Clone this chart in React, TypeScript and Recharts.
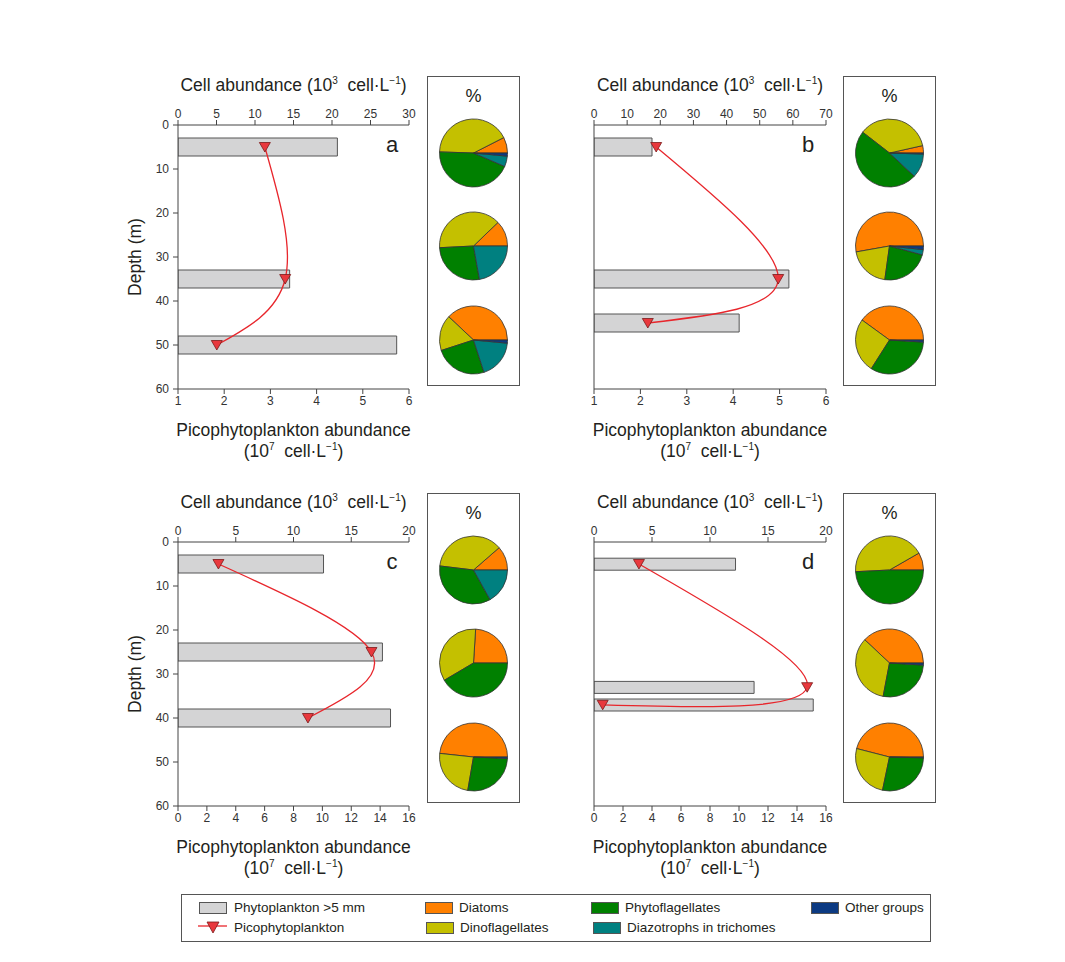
import React from 'react';
import { ComposedChart, Bar, Line, XAxis, YAxis, Label, PieChart, Pie, Cell } from 'recharts';

const FONT = "'Liberation Sans', Arial, sans-serif";

// Depths (m) of the sampled layers
const depthA = [5, 35, 50];
const depthB = [5, 35, 45];
const depthC = [5, 25, 40];
const depthD = [5, 33, 37];
// Phytoplankton >5 µm cell abundance (10^3 cell/L)
const cellA = [20.7, 14.5, 28.4];
const cellB = [17.5, 58.8, 43.8];
const cellC = [12.6, 17.7, 18.4];
const cellD = [12.2, 13.8, 18.9];
// Picophytoplankton abundance (10^7 cell/L)
const picoA = [2.88, 3.32, 1.84];
const picoB = [2.34, 4.97, 2.16];
const picoC = [2.8, 13.4, 9.0];
const picoD = [3.1, 14.7, 0.6];

// Axis ticks
const depthTicks = [0, 10, 20, 30, 40, 50, 60];
const cellTicksA = [0, 5, 10, 15, 20, 25, 30];
const cellTicksB = [0, 10, 20, 30, 40, 50, 60, 70];
const cellTicksCD = [0, 5, 10, 15, 20];
const picoTicksAB = [1, 2, 3, 4, 5, 6];
const picoTicksCD = [0, 2, 4, 6, 8, 10, 12, 14, 16];

// Composition groups (%)
const groups = ['Diatoms', 'Dinoflagellates', 'Phytoflagellates', 'Diazotrophs in trichomes', 'Other groups'];
const groupColors = ['#ff8000', '#c4c000', '#008000', '#008080', '#0c3a82'];
const compA = [
  [7.5, 42, 44, 5, 1.5],
  [12.2, 38.6, 27, 22.2, 0],
  [38, 17, 25, 18.5, 1.5],
];
const compB = [
  [3.5, 36, 48.5, 11.5, 0.5],
  [52.8, 20, 23, 2.5, 1.7],
  [40, 26, 33, 0, 1],
];
const compC = [
  [11.4, 36.7, 35, 16.9, 0],
  [24, 34.5, 41.5, 0, 0],
  [48.3, 24, 27, 0, 0.7],
];
const compD = [
  [8.3, 42.5, 49.2, 0, 0],
  [38, 34, 27, 0, 1],
  [46, 25.7, 27.9, 0, 0.4],
];

const TEXT = '#231f20';
const AXIS = '#444';

const TopTitle = (props: any) => {
  const vb = props.viewBox || {};
  const cx = vb.x + vb.width / 2;
  const y = vb.y - 4;
  return (
    <text x={cx} y={y} textAnchor="middle" fontSize={17.5} fill={TEXT} fontFamily={FONT}>
      Cell abundance (10
      <tspan dy={-7} fontSize={10}>3</tspan>
      <tspan dy={7}>{'\u00a0\u00a0cell·L'}</tspan>
      <tspan dy={-7} fontSize={10}>−1</tspan>
      <tspan dy={7}>)</tspan>
    </text>
  );
};

const BottomTitle = (props: any) => {
  const vb = props.viewBox || {};
  const cx = vb.x + vb.width / 2;
  const y = vb.y;
  return (
    <g>
      <text x={cx} y={y + 47} textAnchor="middle" fontSize={17.5} fill={TEXT} fontFamily={FONT}>
        Picophytoplankton abundance
      </text>
      <text x={cx} y={y + 68} textAnchor="middle" fontSize={17.5} fill={TEXT} fontFamily={FONT}>
        (10
        <tspan dy={-7} fontSize={10}>7</tspan>
        <tspan dy={7}>{'\u00a0\u00a0cell·L'}</tspan>
        <tspan dy={-7} fontSize={10}>−1</tspan>
        <tspan dy={7}>)</tspan>
      </text>
    </g>
  );
};

const DepthTitle = (props: any) => {
  const vb = props.viewBox || {};
  const x = vb.x + 7;
  const cy = vb.y + vb.height / 2;
  return (
    <text
      x={x}
      y={cy}
      textAnchor="middle"
      dominantBaseline="central"
      fontSize={17.5}
      fill={TEXT}
      fontFamily={FONT}
      transform={`rotate(-90 ${x} ${cy})`}
    >
      Depth (m)
    </text>
  );
};

const triDot = (p: any) => {
  const { cx, cy, index } = p;
  if (cx == null || cy == null) return <g key={`d${index}`} />;
  return (
    <path
      key={`d${index}`}
      d={`M${cx - 5.5},${cy - 4.5}L${cx + 5.5},${cy - 4.5}L${cx},${cy + 5}Z`}
      fill="#e8383d"
      stroke="#7a1a1a"
      strokeWidth={0.8}
    />
  );
};

type PanelProps = {
  left: number;
  top: number;
  plotW: number;
  letter: string;
  depth: number[];
  cell: number[];
  pico: number[];
  cellTicks: number[];
  picoTicks: number[];
  showY: boolean;
  barSize: number;
};

const Panel = ({ left, top, plotW, letter, depth, cell, pico, cellTicks, picoTicks, showY, barSize }: PanelProps) => {
  const data = depth.map((d, i) => ({ depth: d, cell: cell[i], pico: pico[i] }));
  const W = 400;
  const H = 420;
  const tickStyle = { fontSize: 12, fill: '#333', fontFamily: FONT };
  return (
    <div style={{ position: 'absolute', left, top, width: W, height: H }}>
      <ComposedChart
        layout="vertical"
        width={W}
        height={H}
        data={data}
        margin={{ top: 40, right: W - 80 - plotW, bottom: 56, left: 30 }}
      >
        <XAxis
          xAxisId="top"
          orientation="top"
          type="number"
          domain={[cellTicks[0], cellTicks[cellTicks.length - 1]]}
          ticks={cellTicks}
          allowDataOverflow
          height={30}
          tickSize={5}
          tickMargin={2}
          stroke={AXIS}
          tick={tickStyle}
          interval={0}
        >
          <Label content={<TopTitle />} />
        </XAxis>
        <XAxis
          xAxisId="bottom"
          orientation="bottom"
          type="number"
          domain={[picoTicks[0], picoTicks[picoTicks.length - 1]]}
          ticks={picoTicks}
          allowDataOverflow
          height={30}
          tickSize={5}
          tickMargin={2}
          stroke={AXIS}
          tick={tickStyle}
          interval={0}
        >
          <Label content={<BottomTitle />} />
        </XAxis>
        <YAxis
          type="number"
          dataKey="depth"
          domain={[0, 60]}
          ticks={depthTicks}
          allowDataOverflow
          width={50}
          tickSize={5}
          tickMargin={4}
          stroke={AXIS}
          tick={showY ? tickStyle : false}
          interval={0}
        >
          {showY ? <Label content={<DepthTitle />} /> : null}
        </YAxis>
        <Bar
          xAxisId="top"
          dataKey="cell"
          barSize={barSize}
          fill="#d4d4d5"
          stroke="#555"
          strokeWidth={1}
          isAnimationActive={false}
        />
        <Line
          xAxisId="bottom"
          dataKey="pico"
          type="natural"
          stroke="#e8262c"
          strokeWidth={1.3}
          dot={triDot}
          activeDot={false}
          isAnimationActive={false}
        />
      </ComposedChart>
      <div
        style={{
          position: 'absolute',
          left: 80 + 214 - 20,
          top: 70 + 8,
          width: 40,
          textAlign: 'center',
          fontFamily: FONT,
          fontSize: 22,
          color: TEXT,
          lineHeight: '24px',
        }}
      >
        {letter}
      </div>
    </div>
  );
};

const PieBox = ({ left, top, comp }: { left: number; top: number; comp: number[][] }) => {
  const cys = [77, 170, 264];
  return (
    <div
      style={{
        position: 'absolute',
        left,
        top,
        width: 93,
        height: 310,
        border: '1.3px solid #555',
        boxSizing: 'border-box',
        background: '#fff',
      }}
    >
      <div
        style={{
          position: 'absolute',
          left: 0,
          top: 8,
          width: '100%',
          textAlign: 'center',
          fontFamily: FONT,
          fontSize: 18,
          color: TEXT,
          lineHeight: '22px',
        }}
      >
        %
      </div>
      <div style={{ position: 'absolute', left: -1, top: -1 }}>
        <PieChart width={93} height={310} margin={{ top: 0, right: 0, bottom: 0, left: 0 }}>
          {comp.map((vals, k) => {
            const pd = vals
              .map((v, i) => ({ name: groups[i], value: v, color: groupColors[i] }))
              .filter((d) => d.value > 0);
            return (
              <Pie
                key={k}
                data={pd}
                dataKey="value"
                nameKey="name"
                cx={46.5}
                cy={cys[k]}
                outerRadius={34}
                innerRadius={0}
                startAngle={0}
                endAngle={360}
                stroke="#333"
                strokeWidth={0.8}
                isAnimationActive={false}
                label={false}
                labelLine={false}
              >
                {pd.map((d, i) => (
                  <Cell key={i} fill={d.color} />
                ))}
              </Pie>
            );
          })}
        </PieChart>
      </div>
    </div>
  );
};

const legendRow1 = [
  { kind: 'bar', label: 'Phytoplankton >5 mm', color: '#d4d4d5', sx: 199, tx: 234 },
  { kind: 'box', label: 'Diatoms', color: groupColors[0], sx: 425, tx: 459 },
  { kind: 'box', label: 'Phytoflagellates', color: groupColors[2], sx: 591, tx: 625 },
  { kind: 'box', label: 'Other groups', color: groupColors[4], sx: 811, tx: 845 },
];
const legendRow2 = [
  { kind: 'tri', label: 'Picophytoplankton', color: '#e8383d', sx: 199, tx: 234 },
  { kind: 'box', label: 'Dinoflagellates', color: groupColors[1], sx: 426, tx: 460 },
  { kind: 'box', label: 'Diazotrophs in trichomes', color: groupColors[3], sx: 593, tx: 627 },
];

const LegendItem = ({ item, cy }: { item: any; cy: number }) => (
  <>
    {item.kind === 'tri' ? (
      <svg
        width={30}
        height={14}
        style={{ position: 'absolute', left: item.sx - 1, top: cy - 7 }}
      >
        <line x1={0} y1={5} x2={29} y2={5} stroke="#e8262c" strokeWidth={1.3} />
        <path d="M9,1L21,1L15,12Z" fill="#e8383d" stroke="#7a1a1a" strokeWidth={0.8} />
      </svg>
    ) : (
      <div
        style={{
          position: 'absolute',
          left: item.sx,
          top: cy - 6,
          width: 28,
          height: 12,
          background: item.color,
          border: '1px solid #555',
          boxSizing: 'border-box',
        }}
      />
    )}
    <div
      style={{
        position: 'absolute',
        left: item.tx,
        top: cy - 9,
        fontFamily: FONT,
        fontSize: 13.5,
        lineHeight: '18px',
        color: TEXT,
        whiteSpace: 'nowrap',
      }}
    >
      {item.label}
    </div>
  </>
);

export default function App() {
  return (
    <div style={{ position: 'absolute', left: 0, top: 0, width: 1065, height: 962, background: '#fff' }}>
      <Panel left={98} top={55} plotW={231} letter="a" depth={depthA} cell={cellA} pico={picoA}
        cellTicks={cellTicksA} picoTicks={picoTicksAB} showY={true} barSize={18} />
      <Panel left={514} top={55} plotW={232} letter="b" depth={depthB} cell={cellB} pico={picoB}
        cellTicks={cellTicksB} picoTicks={picoTicksAB} showY={false} barSize={18} />
      <Panel left={98} top={472} plotW={231} letter="c" depth={depthC} cell={cellC} pico={picoC}
        cellTicks={cellTicksCD} picoTicks={picoTicksCD} showY={true} barSize={18} />
      <Panel left={514} top={472} plotW={232} letter="d" depth={depthD} cell={cellD} pico={picoD}
        cellTicks={cellTicksCD} picoTicks={picoTicksCD} showY={false} barSize={12} />

      <PieBox left={427} top={76} comp={compA} />
      <PieBox left={843} top={76} comp={compB} />
      <PieBox left={427} top={493} comp={compC} />
      <PieBox left={843} top={493} comp={compD} />

      <div
        style={{
          position: 'absolute',
          left: 181,
          top: 894,
          width: 750,
          height: 48,
          border: '1px solid #555',
          boxSizing: 'border-box',
        }}
      />
      {legendRow1.map((it, i) => (
        <LegendItem key={`r1${i}`} item={it} cy={908} />
      ))}
      {legendRow2.map((it, i) => (
        <LegendItem key={`r2${i}`} item={it} cy={928} />
      ))}
    </div>
  );
}
